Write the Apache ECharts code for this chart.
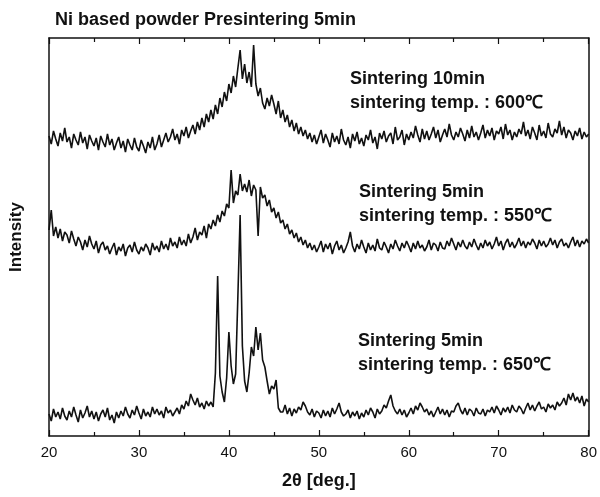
<!DOCTYPE html>
<html>
<head>
<meta charset="utf-8">
<script src="https://cdn.jsdelivr.net/npm/echarts@6/dist/echarts.min.js"></script>
<style>html,body{margin:0;padding:0;background:#fff}#c{width:600px;height:497px}</style>
</head>
<body>
<div id="c"></div>
<script>
// 2-theta sampling grid: start, step (deg)
const thetaStart = 20;
const thetaStep = 0.25;
const xTicks = [20, 30, 40, 50, 60, 70, 80];

// Intensity (arb. units), one value per 0.25 deg
const s600 = [
300,292,305,297, 290,303,295,308, 294,299,288,302, 296,291,304,293, 299,287,301,295,
290,298,286,300, 294,289,302,291, 297,286,293,299, 288,295,284,297, 291,286,298,289,
285,296,290,283, 294,288,299,286, 292,301,289,296, 303,294,299,307, 296,302,292,306,
300,309,298,305, 311,302,314,306, 318,309,322,314, 326,317,331,322, 338,329,344,335,
352,343,360,349, 368,386,357,372, 353,364,349,391, 352,340,348,333, 327,338,330,341,
332,322,335,318, 326,314,321,309, 316,305,313,302, 309,300,306,297, 303,294,301,292,
299,306,293,302, 296,289,303,294, 300,292,307,296, 291,299,288,302, 295,304,292,298,
290,301,296,306, 293,299,287,303, 297,305,294,300, 303,292,309,296, 299,306,291,302,
296,304,298,310, 301,294,307,297, 305,296,302,309, 298,306,294,301, 307,299,312,301,
296,304,299,308, 302,295,306,298, 310,299,304,296, 303,311,298,306, 300,308,296,305,
302,309,297,312, 301,306,296,304, 299,307,302,314, 300,306,297,309, 303,296,311,300,
305,298,313,302, 299,307,303,315, 301,309,298,306, 303,296,305,300, 308,297,304,299,
302];

const s550 = [
206,226,200,209, 198,207,195,204, 201,193,205,197, 190,199,194,186, 196,189,200,192,
187,195,183,191, 194,186,190,182, 188,193,181,189, 185,192,180,188, 191,184,194,186,
182,189,185,192, 188,181,193,186, 190,184,195,187, 192,186,198,190, 194,188,199,191,
196,190,202,193, 199,208,196,204, 201,210,198,212, 207,216,210,221, 214,225,220,232,
228,266,233,245, 241,262,245,252, 244,256,240,251, 246,200,249,238, 241,230,236,224,
228,218,224,213, 216,207,212,202, 206,198,203,194, 199,191,196,188, 193,186,191,184,
189,195,184,192, 187,193,182,190, 195,186,191,183, 188,194,204,190, 184,192,187,196,
189,183,193,186, 191,185,197,188, 186,194,189,183, 192,187,196,190, 185,193,188,195,
190,184,193,187, 195,188,191,185, 189,196,186,193, 191,185,194,188, 187,195,190,198,
192,186,194,189, 196,190,187,194, 189,197,191,186, 193,188,196,190, 194,187,192,199,
190,195,186,193, 197,189,194,188, 192,198,190,195, 188,194,191,197, 193,187,196,190,
195,189,192,198, 191,196,188,194, 197,190,193,188, 194,199,190,196, 189,195,192,197,
193];

const s650 = [
22,15,27,19, 24,17,28,20, 16,25,19,29, 21,14,26,18, 23,30,19,25,
17,24,15,22, 26,19,28,16, 21,13,24,18, 25,20,29,22, 18,26,21,30,
23,17,27,20, 24,19,29,22, 27,21,25,18, 29,23,26,20, 24,28,22,31,
27,35,30,42, 36,31,38,29, 33,27,35,30, 34,29,63,160, 60,44,34,58,
104,70,52,62, 140,221,90,55, 44,63,89,80, 109,86,103,76, 69,55,42,50,
47,56,28,24, 24,31,22,28, 20,27,23,29, 26,34,30,24, 21,27,19,25,
23,18,26,20, 25,19,28,22, 27,33,24,20, 22,26,18,24, 20,25,17,23,
19,26,21,28, 24,18,27,22, 25,31,28,35, 41,30,25,22, 27,21,26,19,
23,28,22,30, 26,33,29,24, 27,21,25,19, 24,29,22,27, 21,26,19,25,
24,30,33,26, 22,28,21,27, 25,20,28,23, 22,27,20,26, 24,29,23,30,
26,21,28,24, 29,23,31,26, 24,30,27,22, 28,33,26,31, 25,30,34,27,
29,24,32,28, 31,26,34,30, 33,38,31,42, 36,43,35,39, 33,40,30,37,
34];

const labels600 = ["Sintering 10min", "sintering temp. : 600℃"];
const labels550 = ["Sintering 5min", "sintering temp. : 550℃"];
const labels650 = ["Sintering 5min", "sintering temp. : 650℃"];

function pairs(arr) {
  return arr.map((v, i) => [thetaStart + i * thetaStep, v]);
}

const FONT = '"Liberation Sans", Arial, sans-serif';
const INK = '#111';

const chart = echarts.init(document.getElementById('c'), null, {renderer: 'canvas'});

const tickCommon = {
  show: true, inside: true, length: 6, lineStyle: {color: INK, width: 1.2}
};
const minorCommon = {
  show: true, splitNumber: 2, length: 4, lineStyle: {color: INK, width: 1.2}
};

function lineSeries(name, arr) {
  return {
    name, type: 'line', data: pairs(arr), showSymbol: false, symbol: 'none',
    lineStyle: {color: INK, width: 1.6}, itemStyle: {color: INK},
    animation: false, silent: true
  };
}

function textBlock(lines, left, top) {
  return {
    type: 'text', left, top,
    style: {
      text: lines.join('\n'), font: 'bold 18px ' + FONT, fill: INK, lineHeight: 24
    }
  };
}

chart.setOption({
  backgroundColor: '#fff',
  animation: false,
  grid: {left: 49, right: 8, top: 38, bottom: 61, containLabel: false},
  xAxis: [
    {
      type: 'value', min: 20, max: 80, interval: 10, position: 'bottom',
      axisLine: {show: true, onZero: false, lineStyle: {color: INK, width: 1.5}},
      axisTick: tickCommon,
      minorTick: minorCommon,
      splitLine: {show: false},
      axisLabel: {
        color: INK, fontSize: 15, fontFamily: FONT, margin: 9,
        customValues: xTicks
      },
      name: '2θ [deg.]', nameLocation: 'middle', nameGap: 36,
      nameTextStyle: {color: INK, fontSize: 18, fontWeight: 'bold', fontFamily: FONT}
    },
    {
      type: 'value', min: 20, max: 80, interval: 10, position: 'top',
      axisLine: {show: true, onZero: false, lineStyle: {color: INK, width: 1.5}},
      axisTick: tickCommon,
      minorTick: minorCommon,
      splitLine: {show: false},
      axisLabel: {show: false}
    }
  ],
  yAxis: [
    {
      type: 'value', min: 0, max: 398, position: 'left',
      axisLine: {show: true, onZero: false, lineStyle: {color: INK, width: 1.5}},
      axisTick: {show: false}, axisLabel: {show: false}, splitLine: {show: false},
      name: 'Intensity', nameLocation: 'middle', nameGap: 24, nameRotate: 90,
      nameTextStyle: {color: INK, fontSize: 17, fontWeight: 'bold', fontFamily: FONT}
    },
    {
      type: 'value', min: 0, max: 398, position: 'right',
      axisLine: {show: true, onZero: false, lineStyle: {color: INK, width: 1.5}},
      axisTick: {show: false}, axisLabel: {show: false}, splitLine: {show: false}
    }
  ],
  title: {
    text: 'Ni based powder Presintering 5min',
    left: 50, top: 6,
    textStyle: {color: INK, fontSize: 18, fontWeight: 'bold', fontFamily: FONT}
  },
  graphic: [
    textBlock(labels600, 350, 67),
    textBlock(labels550, 359, 180),
    textBlock(labels650, 358, 329)
  ],
  series: [
    lineSeries('600C', s600),
    lineSeries('550C', s550),
    lineSeries('650C', s650)
  ]
});
</script>
</body>
</html>
